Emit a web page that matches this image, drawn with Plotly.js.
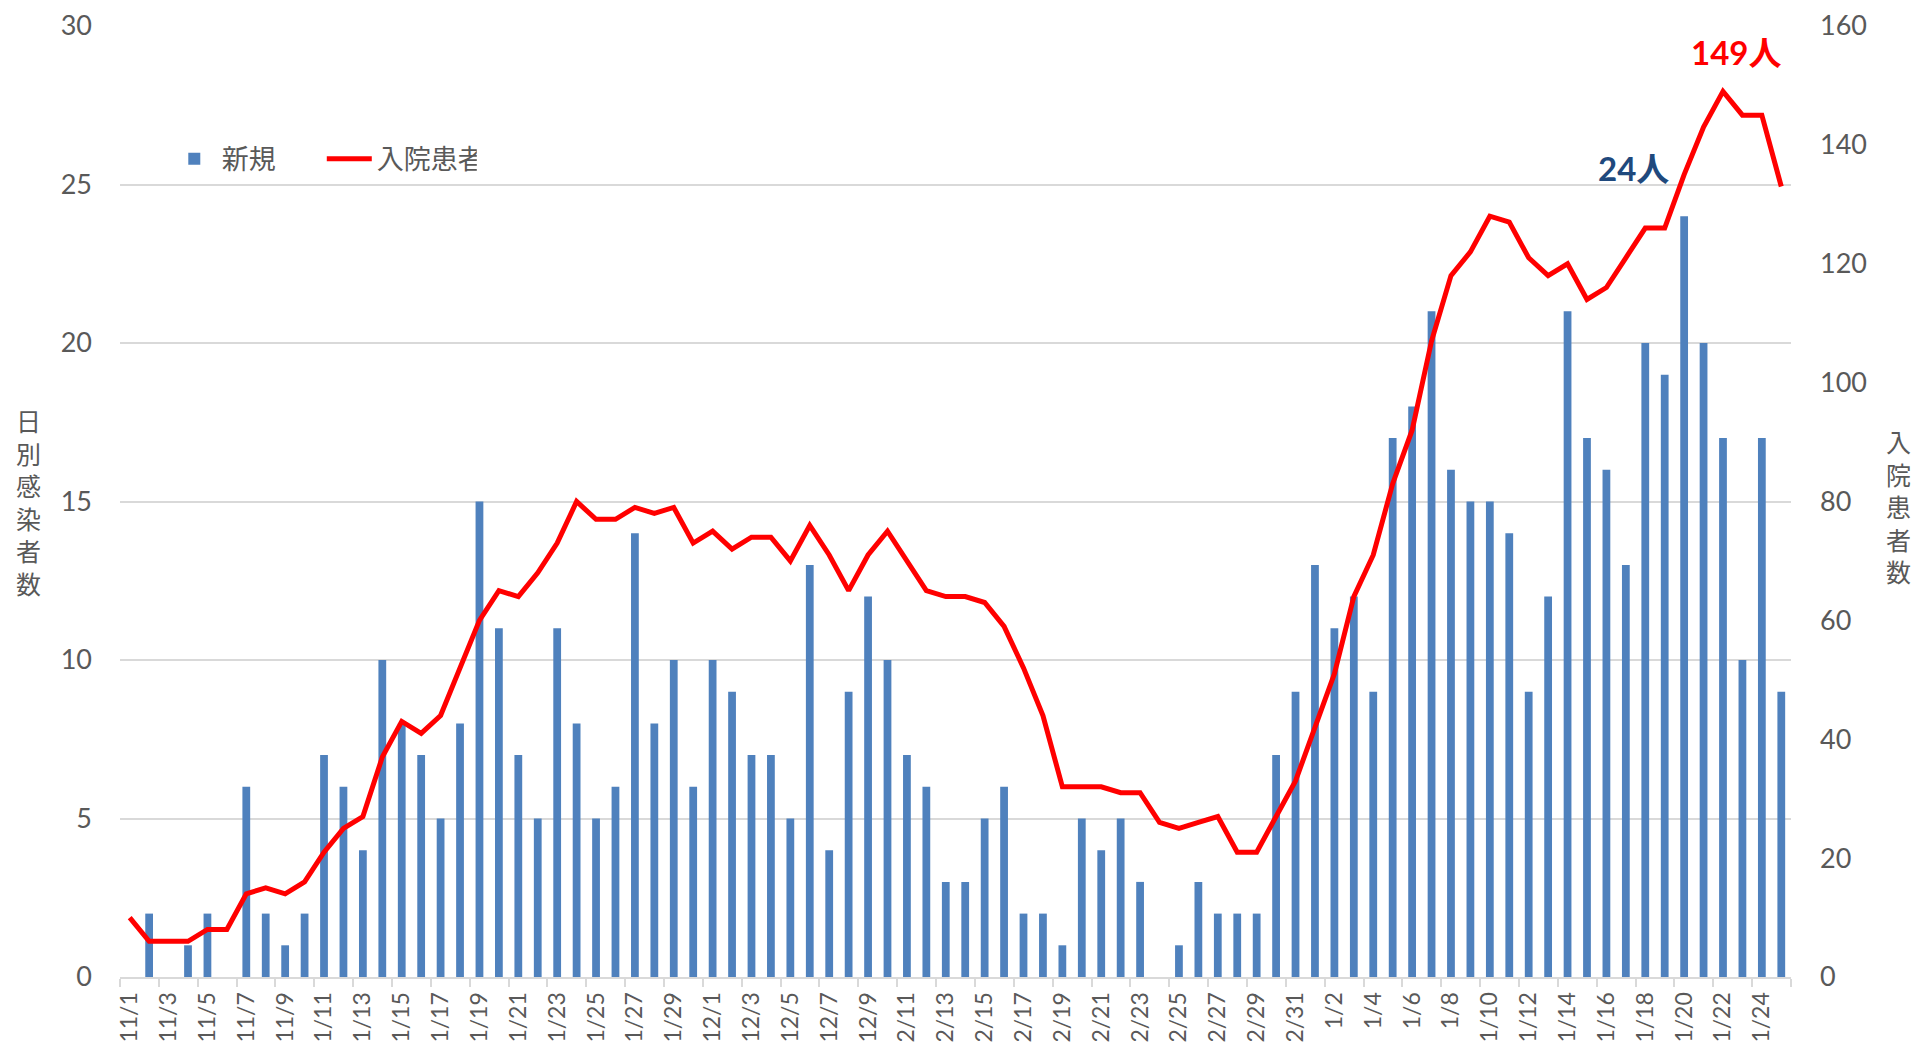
<!DOCTYPE html>
<html>
<head>
<meta charset="utf-8">
<script src="https://cdn.plot.ly/plotly-3.0.1.min.js"></script>
<style>
html,body{margin:0;padding:0;background:#fff;overflow:hidden;}
#chart{width:1917px;height:1043px;}
</style>
</head>
<body>
<div id="chart"></div>
<script>
// Dates (categories)
const dates = [
 "11/1","11/2","11/3","11/4","11/5","11/6","11/7","11/8","11/9","11/10",
 "11/11","11/12","11/13","11/14","11/15","11/16","11/17","11/18","11/19","11/20",
 "11/21","11/22","11/23","11/24","11/25","11/26","11/27","11/28","11/29","11/30",
 "12/1","12/2","12/3","12/4","12/5","12/6","12/7","12/8","12/9","12/10",
 "12/11","12/12","12/13","12/14","12/15","12/16","12/17","12/18","12/19","12/20",
 "12/21","12/22","12/23","12/24","12/25","12/26","12/27","12/28","12/29","12/30","12/31",
 "1/1","1/2","1/3","1/4","1/5","1/6","1/7","1/8","1/9","1/10",
 "1/11","1/12","1/13","1/14","1/15","1/16","1/17","1/18","1/19","1/20",
 "1/21","1/22","1/23","1/24","1/25"
];
// 新規 (daily new infections)
const newCases = [
 0,2,0,1,2,0,6,2,1,2,
 7,6,4,10,8,7,5,8,15,11,
 7,5,11,8,5,6,14,8,10,6,
 10,9,7,7,5,13,4,9,12,10,
 7,6,3,3,5,6,2,2,1,5,
 4,5,3,0,1,3,2,2,2,7,9,
 13,11,12,9,17,18,21,16,15,15,
 14,9,12,21,17,16,13,20,19,24,
 20,17,10,17,9
];
// 入院患者 (hospitalized)
const inpatients = [
 10,6,6,6,8,8,14,15,14,16,
 21,25,27,37,43,41,44,52,60,65,
 64,68,73,80,77,77,79,78,79,73,
 75,72,74,74,70,76,71,65,71,75,
 70,65,64,64,63,59,52,44,32,32,
 32,31,31,26,25,26,27,21,21,27,33,
 42,51,64,71,83,92,107,118,122,128,
 127,121,118,120,114,116,121,126,126,135,
 143,149,145,145,133
];
const leftTicks = [0,5,10,15,20,25,30];
const rightTicks = [0,20,40,60,80,100,120,140,160];
const seriesNames = ["新規","入院患者"];
const leftTitle = "日別感染者数";
const rightTitle = "入院患者数";
const peakLabel = {date:"1/22", value:149, text:"149人"};
const maxNewLabel = {date:"1/20", value:24, text:"24人"};

const FONT = "Lato, 'Noto Sans CJK JP', sans-serif";
const GREY = "#595959";

const traces = [
 {
  type:"bar", x:dates, y:newCases, name:seriesNames[0],
  marker:{color:"#4f81bd", line:{width:0}},
  yaxis:"y", hoverinfo:"skip"
 },
 {
  type:"scatter", mode:"lines", x:dates, y:inpatients, name:seriesNames[1],
  line:{color:"#ff0000", width:5, shape:"linear"},
  yaxis:"y2", hoverinfo:"skip"
 }
];

const layout = {
 width:1917, height:1043,
 margin:{l:120, r:126, t:26, b:66, pad:0},
 paper_bgcolor:"#ffffff", plot_bgcolor:"#ffffff",
 font:{family:FONT, color:GREY},
 bargap:0.6,
 showlegend:true,
 legend:{orientation:"h", x:0.028, y:0.86, xanchor:"left", yanchor:"middle",
   font:{family:FONT, size:27, color:GREY}, bgcolor:"rgba(0,0,0,0)", itemwidth:45,
   entrywidth:95, entrywidthmode:"pixels",
   traceorder:"normal"},
 xaxis:{
   type:"category", tickmode:"linear", tick0:0, dtick:2,
   tickangle:-90, tickfont:{family:FONT, size:23, color:GREY},
   showgrid:false, showline:true, linecolor:"#d9d9d9", linewidth:2,
   ticks:"outside", tickson:"boundaries", ticklen:8, tickcolor:"#d9d9d9", tickwidth:2,
   ticklabelstandoff:4, automargin:false, zeroline:false,
   range:[-0.5, dates.length-0.5]
 },
 yaxis:{
   range:[0,30], tickmode:"array", tickvals:leftTicks, ticktext:leftTicks.map(String),
   tickfont:{family:FONT, size:27, color:GREY},
   showgrid:true, gridcolor:"#d9d9d9", gridwidth:2, zeroline:false,
   showline:false, ticks:"", ticklabelstandoff:27, automargin:false
 },
 yaxis2:{
   range:[0,160], overlaying:"y", side:"right",
   tickmode:"array", tickvals:rightTicks, ticktext:rightTicks.map(String),
   tickfont:{family:FONT, size:27, color:GREY},
   showgrid:false, zeroline:false, showline:false, ticks:"",
   ticklabelstandoff:28, automargin:false
 },
 annotations:[
  {xref:"paper", yref:"paper", x:-0.055, y:0.50, xanchor:"center", yanchor:"middle",
   text:leftTitle.split("").join("<br>"), showarrow:false,
   font:{family:"'Noto Sans CJK JP', sans-serif", size:25, color:GREY}},
  {xref:"paper", yref:"paper", x:1.0646, y:0.495, xanchor:"center", yanchor:"middle",
   text:rightTitle.split("").join("<br>"), showarrow:false,
   font:{family:"'Noto Sans CJK JP', sans-serif", size:25, color:GREY}},
  {xref:"x", yref:"y2", x:peakLabel.date, y:peakLabel.value, text:"<b>"+peakLabel.text+"</b>",
   showarrow:false, xanchor:"center", yanchor:"middle", xshift:13, yshift:39,
   font:{family:FONT, size:33, color:"#ff0000"}},
  {xref:"x", yref:"y", x:maxNewLabel.date, y:maxNewLabel.value, text:"<b>"+maxNewLabel.text+"</b>",
   showarrow:false, xanchor:"center", yanchor:"middle", xshift:-51, yshift:48,
   font:{family:FONT, size:33, color:"#1f497d"}}
 ]
};

Plotly.newPlot("chart", traces, layout, {staticPlot:true, displayModeBar:false});
</script>
</body>
</html>
